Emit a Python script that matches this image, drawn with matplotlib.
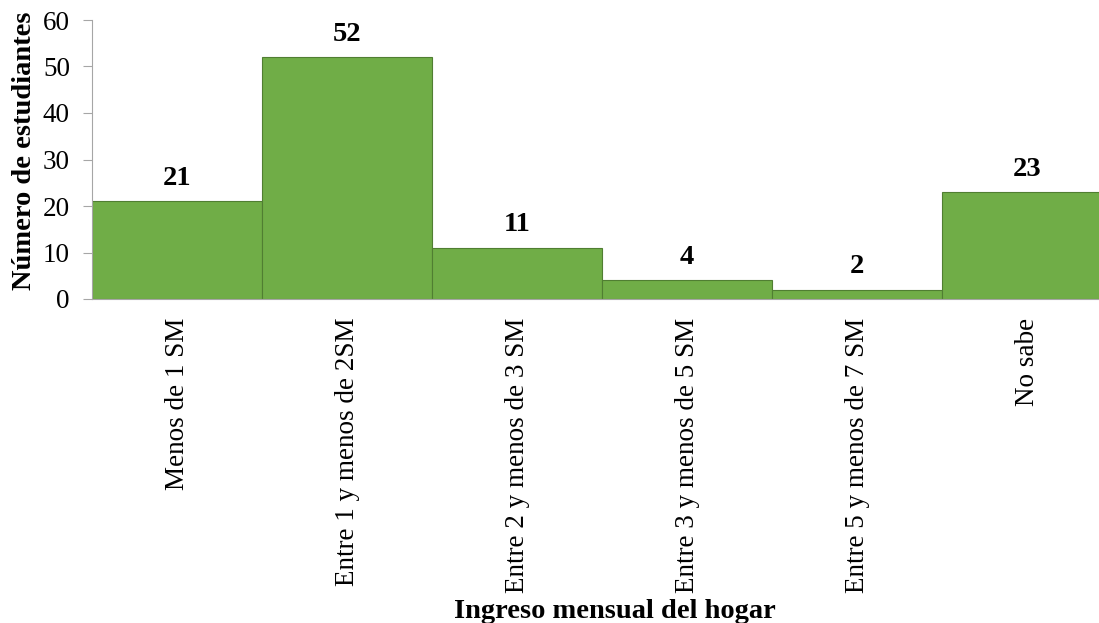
import matplotlib
matplotlib.use("Agg")
import matplotlib.pyplot as plt

categories = ["Menos de 1 SM", "Entre 1 y menos de 2SM", "Entre 2 y menos de 3 SM",
              "Entre 3 y menos de 5 SM", "Entre 5 y menos de 7 SM", "No sabe"]
values = [21, 52, 11, 4, 2, 23]
yticks = [0, 10, 20, 30, 40, 50, 60]

plt.rcParams['font.family'] = ['Liberation Serif', 'DejaVu Serif']

fig = plt.figure(figsize=(10.99, 6.23), dpi=100)
ax = fig.add_axes([92/1099, 1-299/623, 1020/1099, 279/623])

x = list(range(len(categories)))
ax.bar(x, values, width=1.0, color="#70AD47", edgecolor="#507E32", linewidth=0.8)
for xi, v in zip(x, values):
    ax.annotate(str(v), (xi, v), xytext=(0, 7.5), textcoords="offset points",
                ha="center", va="bottom", fontsize=20.5, fontweight="bold")

ax.set_xlim(-0.5, len(categories) - 0.5)
ax.set_ylim(0, 60)
ax.set_yticks(yticks)
ax.set_xticks(x)
ax.set_xticklabels(categories, rotation=90, fontsize=19.5)
ax.tick_params(axis='y', labelsize=19.5, length=6.5, color="#A6A6A6", pad=9.4)
ax.tick_params(axis='x', length=0, pad=13.5)
for s in ["top", "right"]:
    ax.spines[s].set_visible(False)
for s in ["left", "bottom"]:
    ax.spines[s].set_color("#A6A6A6")

ax.set_ylabel("Número de estudiantes", fontsize=20.5, fontweight="bold")
ax.yaxis.set_label_coords((37-92)/1020, (299-151)/279)
fig.text(615/1099, 1-611/623, "Ingreso mensual del hogar", ha="center", va="center",
         fontsize=20.5, fontweight="bold")

fig.savefig("out.png", dpi=100)
